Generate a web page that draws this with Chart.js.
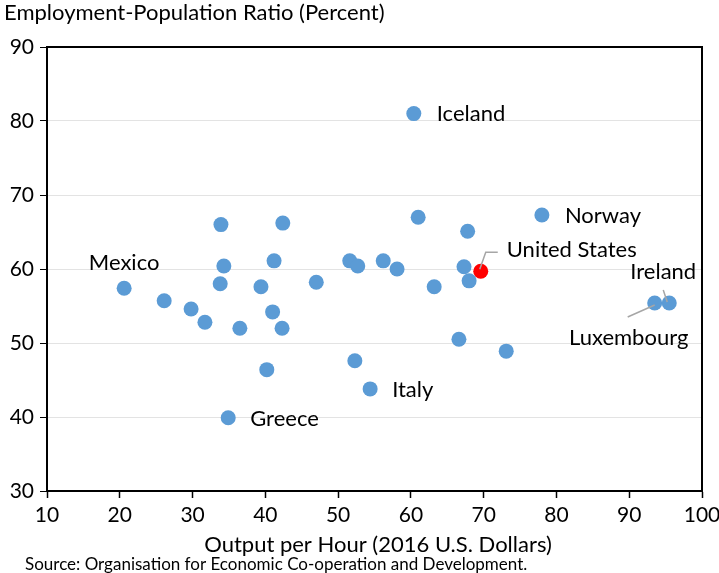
<!DOCTYPE html>
<html>
<head>
<meta charset="utf-8">
<script src="https://cdn.jsdelivr.net/npm/chart.js@4/dist/chart.umd.min.js"></script>
<style>
  html, body { margin: 0; padding: 0; background: #fff; }
  #wrap { width: 719px; height: 573px; }
</style>
</head>
<body>
<div id="wrap"><canvas id="chart" width="719" height="573"></canvas></div>
<script>
// output per hour (2016 US$) and employment-population ratio, OECD countries
const countries = ['Mexico', '', '', '', '', '', '', '', 'Greece', '', '', '', '', '', '', '', '', '', '', 'Italy', '', '', 'Iceland', '', '', '', '', '', '', '', 'Norway', 'Luxembourg', 'Ireland'];
const outputPerHour = [20.6, 26.1, 29.8, 31.7, 33.9, 34.3, 33.8, 36.5, 34.9, 39.4, 40.2, 41.0, 41.2, 42.4, 42.3, 47.0, 51.6, 52.7, 52.3, 54.4, 56.2, 58.1, 60.4, 61.0, 63.2, 66.6, 67.8, 67.3, 68.0, 73.1, 78.0, 93.5, 95.5];
const empRatio = [57.4, 55.7, 54.6, 52.8, 66.0, 60.4, 58.0, 52.0, 39.9, 57.6, 46.4, 54.2, 61.1, 66.2, 52.0, 58.2, 61.1, 60.4, 47.6, 43.8, 61.1, 60.0, 81.0, 67.0, 57.6, 50.5, 65.1, 60.3, 58.4, 48.9, 67.3, 55.4, 55.4];
const usName = 'United States';
const usOutput = 69.6;
const usRatio = 59.7;
const xTicks = [10, 20, 30, 40, 50, 60, 70, 80, 90, 100];
const yTicks = [30, 40, 50, 60, 70, 80, 90];

const FONT = 'Lato, "Open Sans", sans-serif';

const points = outputPerHour.map((x, i) => ({ x: x, y: empRatio[i] }));

// label offsets from the dot, in pixels
const labelSpots = {
  'Mexico': { dx: 0, dy: -25, align: 'center' },
  'Greece': { dx: 22, dy: 1, align: 'left' },
  'Italy': { dx: 22, dy: 1, align: 'left' },
  'Iceland': { dx: 23, dy: 0, align: 'left' },
  'Norway': { dx: 23, dy: 1, align: 'left' },
  'Ireland': { dx: -6, dy: -31, align: 'center' },
  'Luxembourg': { dx: -26, dy: 35, align: 'center' },
  'United States': { dx: 26, dy: -21, align: 'left' }
};

const extras = {
  id: 'extras',
  afterDraw(chart) {
    const c = chart.ctx, a = chart.chartArea;
    const xs = chart.scales.x, ys = chart.scales.y;
    c.save();
    // top and right frame
    c.strokeStyle = '#000';
    c.lineWidth = 2;
    c.beginPath();
    c.moveTo(a.left, a.top);
    c.lineTo(a.right, a.top);
    c.lineTo(a.right, a.bottom);
    c.stroke();

    // leader lines
    c.strokeStyle = '#a6a6a6';
    c.lineWidth = 1.5;
    const us = { x: xs.getPixelForValue(usOutput), y: ys.getPixelForValue(usRatio) };
    c.beginPath();
    c.moveTo(us.x - 1, us.y - 2);
    c.lineTo(us.x + 5, us.y - 19);
    c.lineTo(us.x + 17, us.y - 19);
    c.stroke();
    const li = countries.indexOf('Luxembourg'), ii = countries.indexOf('Ireland');
    const lu = { x: xs.getPixelForValue(outputPerHour[li]), y: ys.getPixelForValue(empRatio[li]) };
    const ir = { x: xs.getPixelForValue(outputPerHour[ii]), y: ys.getPixelForValue(empRatio[ii]) };
    c.beginPath();
    c.moveTo(lu.x, lu.y + 2);
    c.lineTo(lu.x - 27, lu.y + 14);
    c.moveTo(ir.x - 2, ir.y - 1);
    c.lineTo(ir.x - 6, ir.y - 13);
    c.stroke();

    // point labels
    c.fillStyle = '#000';
    c.font = '22px ' + FONT;
    c.textBaseline = 'middle';
    const drawLabel = (name, x, y) => {
      const s = labelSpots[name];
      if (!s) return;
      c.textAlign = s.align;
      c.fillText(name, xs.getPixelForValue(x) + s.dx, ys.getPixelForValue(y) + s.dy);
    };
    countries.forEach((n, i) => { if (n) drawLabel(n, outputPerHour[i], empRatio[i]); });
    drawLabel(usName, usOutput, usRatio);

    // titles
    c.textAlign = 'left';
    c.fillText('Employment-Population Ratio (Percent)', 4, 13);
    c.textAlign = 'center';
    c.fillText('Output per Hour (2016 U.S. Dollars)', 378, 545);
    c.textAlign = 'left';
    c.font = '17px ' + FONT;
    c.fillText('Source: Organisation for Economic Co-operation and Development.', 25, 565);
    c.restore();
  }
};

new Chart(document.getElementById('chart'), {
  type: 'scatter',
  data: {
    datasets: [
      {
        label: usName,
        data: [{ x: usOutput, y: usRatio }],
        backgroundColor: '#ff0000',
        borderWidth: 0,
        pointRadius: 7.5,
        pointHoverRadius: 7.5
      },
      {
        label: 'OECD',
        data: points,
        backgroundColor: '#5b9bd5',
        borderWidth: 0,
        pointRadius: 7.5,
        pointHoverRadius: 7.5
      }
    ]
  },
  options: {
    responsive: false,
    animation: false,
    events: [],
    layout: { padding: { left: 0, top: 47, right: 17, bottom: 0 } },
    plugins: { legend: { display: false }, tooltip: { enabled: false } },
    scales: {
      x: {
        type: 'linear',
        min: 10, max: 100,
        afterFit(s) { s.height = 82; s.paddingLeft = 0; s.paddingRight = 0; },
        afterBuildTicks(s) { s.ticks = xTicks.map(v => ({ value: v })); },
        grid: { drawOnChartArea: false, tickColor: '#000', tickLength: 7, tickWidth: 1.5 },
        border: { display: true, color: '#000', width: 2 },
        ticks: { color: '#000', font: { family: FONT, size: 21 }, padding: 5, maxRotation: 0 }
      },
      y: {
        type: 'linear',
        min: 30, max: 90,
        afterFit(s) { s.width = 47; s.paddingTop = 0; s.paddingBottom = 0; },
        afterBuildTicks(s) { s.ticks = yTicks.map(v => ({ value: v })); },
        grid: { color: '#e3e3e3', lineWidth: 1, tickColor: '#000', tickLength: 7 },
        border: { display: true, color: '#000', width: 2 },
        ticks: { color: '#000', font: { family: FONT, size: 21 }, padding: 6 }
      }
    }
  },
  plugins: [extras]
});
</script>
</body>
</html>
